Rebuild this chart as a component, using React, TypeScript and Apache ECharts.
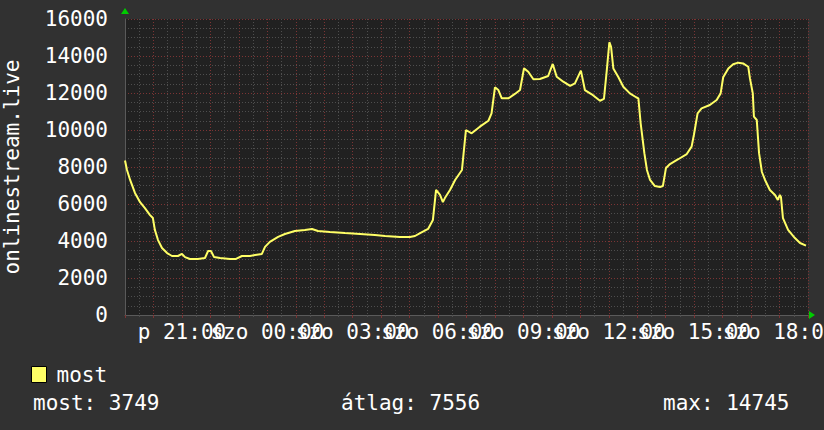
import React, { useEffect, useRef } from "react";
import * as echarts from "echarts";

// hours since Friday 00:00 (24 = Saturday 00:00)
const hours = [
  19.0, 19.07, 19.18, 19.35, 19.53, 19.7, 19.88, 19.98, 20.05, 20.16, 20.3, 20.48, 20.65, 20.86,
  21.0, 21.11, 21.28, 21.56, 21.81, 21.92, 22.02, 22.13, 22.34, 22.69, 22.9, 23.11, 23.39, 23.57,
  23.81, 23.92, 24.09, 24.38, 24.62, 24.97, 25.32, 25.57, 25.78, 26.2, 26.73, 27.26, 27.78, 28.14,
  28.66, 29.01, 29.19, 29.37, 29.65, 29.82, 29.93, 30.07, 30.17, 30.24, 30.42, 30.6, 30.84, 30.98,
  31.18, 31.47, 31.77, 31.88, 32.0, 32.12, 32.24, 32.47, 32.7, 32.88, 33.02, 33.17, 33.35, 33.58,
  33.87, 34.03, 34.17, 34.4, 34.64, 34.81, 35.02, 35.16, 35.4, 35.69, 35.83, 35.93, 36.02, 36.08,
  36.16, 36.33, 36.51, 36.74, 36.96, 37.04, 37.12, 37.25, 37.34, 37.45, 37.62, 37.8, 37.9, 38.01,
  38.15, 38.44, 38.74, 38.91, 38.99, 39.12, 39.26, 39.55, 39.79, 39.93, 40.02, 40.2, 40.37, 40.55,
  40.72, 40.9, 40.96, 41.06, 41.1, 41.2, 41.28, 41.38, 41.49, 41.66, 41.84, 41.94, 42.01, 42.05,
  42.12, 42.3, 42.54, 42.72, 42.93,
];

const values = [
  8350, 7840, 7300, 6600, 6100, 5780, 5400, 5240, 4600, 4050, 3620, 3350, 3190, 3190,
  3300, 3130, 3030, 3030, 3080, 3460, 3460, 3130, 3080, 3030, 3030, 3190, 3190, 3240,
  3300, 3680, 3950, 4220, 4380, 4540, 4600, 4650, 4540, 4490, 4430, 4380, 4320, 4270,
  4220, 4220, 4270, 4430, 4650, 5140, 6760, 6490, 6100, 6320, 6760, 7300, 7840, 10000,
  9820, 10180, 10500, 10900, 12310, 12160, 11710, 11710, 11950, 12160, 13330, 13150, 12740, 12760,
  12920, 13570, 12880, 12610, 12380, 12520, 13210, 12160, 11930, 11580, 11680, 13240, 14745, 14500,
  13330, 12880, 12340, 11980, 11770, 11710, 10360, 8750, 7840, 7300, 6970, 6920, 6970, 7950,
  8160, 8420, 8700, 9100, 9730, 10900, 11170, 11350, 11620, 11980, 12850, 13330, 13550, 13640,
  13600, 13420, 12790, 11980, 10720, 10540, 8750, 7730, 7300, 6760, 6490, 6220, 6490, 6380,
  5240, 4600, 4160, 3890, 3749,
];

// tick labels every 3 hours, split into two alternating sets
const labelHoursA = [21, 27, 33, 39];
const labelHoursB = [24, 30, 36, 42];
const seriesName = "most";
const axisTitle = "onlinestream.live";
const statTexts = ["most: 3749", "átlag: 7556", "max: 14745"];

const FONT = "'DejaVu Sans Mono', monospace";
const BG = "#313131";
const PLOT_BG = "#212121";
const LINE = "#ffff66";
const MAJOR = "#7c3434";
const MINOR = "#4e4e4e";

function fmtHour(h: number): string {
  if (h < 24) return "p " + String(h).padStart(2, "0") + ":00";
  return "szo " + String(h - 24).padStart(2, "0") + ":00";
}

const labelStyle = {
  formatter: (v: number) => fmtHour(v),
  color: "#ffffff",
  fontSize: 21,
  fontFamily: FONT,
  margin: 6,
  hideOverlap: false,
  showMinLabel: true,
  showMaxLabel: true,
};

export default function App() {
  const ref = useRef<HTMLDivElement>(null);

  useEffect(() => {
    if (!ref.current) return;
    const chart = echarts.init(ref.current, null, { renderer: "svg" });
    const data = hours.map((h, i) => [h, values[i]]);
    chart.setOption({
      animation: false,
      backgroundColor: BG,
      textStyle: { fontFamily: FONT },
      grid: {
        left: 125,
        right: 16,
        top: 19,
        bottom: 115,
        containLabel: false,
        outerBoundsMode: "none",
        show: true,
        backgroundColor: PLOT_BG,
        borderWidth: 0,
      },
      legend: {
        left: 31,
        top: 364,
        padding: 0,
        icon: "rect",
        itemWidth: 15,
        itemHeight: 16,
        itemStyle: { borderColor: "#000", borderWidth: 1 },
        textStyle: { color: "#ffffff", fontSize: 21, fontFamily: FONT, padding: [0, 0, 0, 5] },
        data: [seriesName],
      },
      xAxis: [
        {
          type: "value",
          min: 19,
          max: 43,
          interval: 1,
          position: "bottom",
          axisLine: { show: true, lineStyle: { color: "#5a5a5a", width: 1 } },
          axisTick: { show: true, length: 3, lineStyle: { color: MAJOR } },
          minorTick: { show: true, splitNumber: 2, length: 2, lineStyle: { color: MINOR } },
          splitLine: { show: true, lineStyle: { color: MAJOR, type: [1, 2], width: 1 } },
          minorSplitLine: { show: true, lineStyle: { color: MINOR, type: [1, 2], width: 1 } },
          axisLabel: { ...labelStyle, customValues: labelHoursA },
        },
        {
          type: "value",
          min: 19,
          max: 43,
          interval: 1,
          position: "bottom",
          offset: 0,
          axisLine: { show: false },
          axisTick: { show: false },
          splitLine: { show: false },
          axisLabel: { ...labelStyle, customValues: labelHoursB },
        },
      ],
      yAxis: {
        type: "value",
        min: 0,
        max: 16000,
        interval: 2000,
        name: axisTitle,
        nameLocation: "middle",
        nameRotate: 90,
        nameGap: 103,
        nameTextStyle: { color: "#ffffff", fontSize: 21, fontFamily: FONT },
        axisLine: { show: true, lineStyle: { color: "#5a5a5a", width: 1 } },
        axisTick: { show: false },
        minorTick: { show: false, splitNumber: 4 },
        splitLine: { show: true, lineStyle: { color: MAJOR, type: [1, 2], width: 1 } },
        minorSplitLine: { show: true, lineStyle: { color: MINOR, type: [1, 2], width: 1 } },
        axisLabel: {
          formatter: (v: number) => String(v),
          color: "#ffffff",
          fontSize: 21,
          fontFamily: FONT,
          margin: 17,
        },
      },
      series: [
        {
          name: seriesName,
          type: "line",
          xAxisIndex: 0,
          data,
          showSymbol: false,
          symbol: "none",
          lineStyle: { color: LINE, width: 2 },
          itemStyle: { color: LINE },
          z: 5,
        },
      ],
      graphic: [
        { type: "polygon", shape: { points: [[121, 14], [129, 14], [125, 8]] }, style: { fill: "#00cc00" } },
        { type: "polygon", shape: { points: [[809, 311], [809, 319], [815, 315]] }, style: { fill: "#00cc00" } },
        { type: "text", left: 33, top: 392, style: { text: statTexts[0], fill: "#ffffff", font: "21px " + FONT } },
        { type: "text", left: 341, top: 392, style: { text: statTexts[1], fill: "#ffffff", font: "21px " + FONT } },
        { type: "text", left: 663, top: 392, style: { text: statTexts[2], fill: "#ffffff", font: "21px " + FONT } },
      ],
    });
    return () => chart.dispose();
  }, []);

  return (
    <div
      ref={ref}
      style={{ position: "fixed", left: 0, top: 0, width: 824, height: 430 }}
    />
  );
}
